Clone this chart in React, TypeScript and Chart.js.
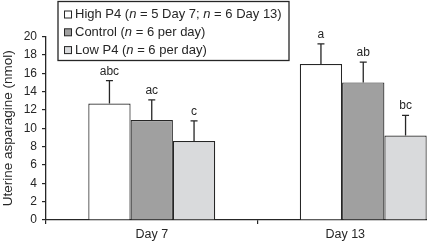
import React, { useEffect, useRef } from "react";
import { Chart, registerables } from "chart.js";

Chart.register(...registerables);

// ---- data ----
const categories = ["Day 7", "Day 13"];
const highP4 = [12.7, 17.0];
const highP4Err = [2.5, 2.2];
const control = [10.9, 15.0];
const controlErr = [2.2, 2.2];
const lowP4 = [8.6, 9.2];
const lowP4Err = [2.2, 2.2];
const highP4Letters = ["abc", "a"];
const controlLetters = ["ac", "ab"];
const lowP4Letters = ["c", "bc"];
const yMin = 0;
const yMax = 20;
const yStep = 2;
const yTitle = "Uterine asparagine (nmol)";
// legend text: [text, italic]
const highP4Legend: [string, boolean][] = [["High P4 (", false], ["n", true], [" = 5 Day 7; ", false], ["n", true], [" = 6 Day 13)", false]];
const controlLegend: [string, boolean][] = [["Control (", false], ["n", true], [" = 6 per day)", false]];
const lowP4Legend: [string, boolean][] = [["Low P4 (", false], ["n", true], [" = 6 per day)", false]];

const FONT = "'Liberation Sans', Arial, Helvetica, sans-serif";
const INK = "#262626";
const VISIBLE_WIDTH = 427;

const overlayPlugin = {
  id: "overlay",
  afterDatasetsDraw(chart: any) {
    const ctx = chart.ctx;
    const yScale = chart.scales.y;
    const xScale = chart.scales.x;
    const area = chart.chartArea;
    ctx.save();
    // error bars + letters
    chart.data.datasets.forEach((ds: any, i: number) => {
      const meta = chart.getDatasetMeta(i);
      meta.data.forEach((bar: any, j: number) => {
        const v = ds.data[j];
        const top = yScale.getPixelForValue(v + ds.errors[j]);
        ctx.strokeStyle = INK;
        ctx.lineWidth = 1.3;
        ctx.beginPath();
        ctx.moveTo(bar.x, bar.y);
        ctx.lineTo(bar.x, top);
        ctx.moveTo(bar.x - 3.5, top);
        ctx.lineTo(bar.x + 3.5, top);
        ctx.stroke();
        ctx.fillStyle = INK;
        ctx.font = `12px ${FONT}`;
        ctx.textAlign = "center";
        ctx.textBaseline = "alphabetic";
        ctx.fillText(ds.letters[j], bar.x, top - 6);
      });
    });
    // category labels (centered on the visible part of each category)
    ctx.font = `12.5px ${FONT}`;
    ctx.fillStyle = INK;
    ctx.textAlign = "center";
    ctx.textBaseline = "middle";
    const n = chart.data.labels.length;
    const step = (xScale.right - xScale.left) / n;
    chart.data.labels.forEach((lab: string, i: number) => {
      const l = xScale.left + step * i;
      const r = Math.min(xScale.left + step * (i + 1), VISIBLE_WIDTH);
      const c = Math.min(xScale.getPixelForValue(i), (l + r) / 2 + 3);
      ctx.fillText(lab, c, area.bottom + 15);
    });
    // legend
    const bx = 58, by = 1.5, bw = 231, bh = 59;
    ctx.fillStyle = "#fff";
    ctx.fillRect(bx, by, bw, bh);
    ctx.strokeStyle = INK;
    ctx.lineWidth = 1.3;
    ctx.strokeRect(bx, by, bw, bh);
    chart.data.datasets.forEach((ds: any, i: number) => {
      const cy = 14.5 + i * 17.8;
      ctx.fillStyle = ds.backgroundColor;
      ctx.fillRect(64.5, cy - 3.5, 7, 7);
      ctx.strokeStyle = INK;
      ctx.lineWidth = 1;
      ctx.strokeRect(64.5, cy - 3.5, 7, 7);
      let x = 75;
      ctx.fillStyle = INK;
      ctx.textAlign = "left";
      ctx.textBaseline = "middle";
      ds.legendParts.forEach(([t, it]: [string, boolean]) => {
        ctx.font = `${it ? "italic " : ""}13px ${FONT}`;
        ctx.fillText(t, x, cy);
        x += ctx.measureText(t).width;
      });
    });
    ctx.restore();
  },
};

export default function App() {
  const ref = useRef<HTMLCanvasElement>(null);
  useEffect(() => {
    if (!ref.current) return;
    const chart = new Chart(ref.current, {
      type: "bar",
      data: {
        labels: categories,
        datasets: [
          { label: "High P4", data: highP4, errors: highP4Err, letters: highP4Letters, legendParts: highP4Legend, backgroundColor: "#ffffff" },
          { label: "Control", data: control, errors: controlErr, letters: controlLetters, legendParts: controlLegend, backgroundColor: "#a0a0a0" },
          { label: "Low P4", data: lowP4, errors: lowP4Err, letters: lowP4Letters, legendParts: lowP4Legend, backgroundColor: "#d9dadc" },
        ].map((d) => ({ ...d, borderColor: INK, borderWidth: 1.2, barPercentage: 1, categoryPercentage: 0.6 })) as any,
      },
      options: {
        responsive: false,
        animation: false,
        devicePixelRatio: 1,
        layout: { padding: { top: 36.5, right: 3, left: 0, bottom: 0 } },
        plugins: { legend: { display: false }, tooltip: { enabled: false } },
        scales: {
          x: {
            offset: true,
            grid: { display: true, drawOnChartArea: false, drawTicks: true, tickLength: 4, offset: true, color: INK, lineWidth: 1.2 },
            border: { display: true, color: INK, width: 1.3 },
            ticks: { display: false },
            afterFit: (s: any) => { s.height = 23; },
          },
          y: {
            min: yMin,
            max: yMax,
            ticks: { stepSize: yStep, color: INK, font: { size: 12, family: FONT }, padding: 5 },
            grid: { display: true, drawOnChartArea: false, drawTicks: true, tickLength: 4, color: INK, lineWidth: 1.2 },
            border: { display: true, color: INK, width: 1.3 },
            title: { display: true, text: yTitle, color: INK, font: { size: 13.5, family: FONT }, padding: { top: 0, bottom: 0 } },
            afterFit: (s: any) => { s.width = 46; },
          },
        },
      },
      plugins: [overlayPlugin],
    } as any);
    return () => chart.destroy();
  }, []);
  return (
    <div style={{ position: "fixed", left: 0, top: 0, width: 427, height: 243, overflow: "hidden", background: "#fff" }}>
      <canvas ref={ref} width={472} height={243} style={{ display: "block" }} />
    </div>
  );
}
